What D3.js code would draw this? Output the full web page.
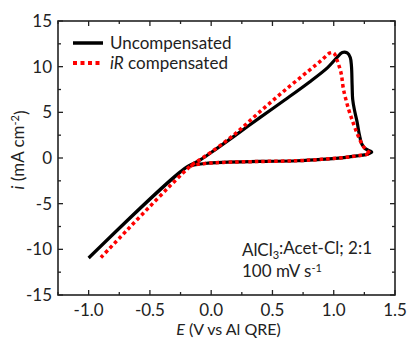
<!DOCTYPE html>
<html>
<head>
<meta charset="utf-8">
<script src="https://cdn.jsdelivr.net/npm/d3@7"></script>
<style>
    body { margin: 0; background: #fff; }
    svg text { font-family: Lato, "Open Sans", sans-serif; fill: #222; }
</style>
</head>
<body>
<div id="chart"></div>
<script>
// values (E in V, i in mA cm-2)
const uncompE = [-1.0, -0.2, -0.1, 0.0, 0.2, 0.4, 0.6, 0.8, 0.95, 1.02, 1.07, 1.11, 1.135, 1.145, 1.15, 1.155, 1.17, 1.19, 1.21, 1.23, 1.26, 1.3, 1.31,
    1.27, 1.2, 1.1, 0.9, 0.7, 0.4, 0.1, -0.05, -0.15, -0.2, -1.0];
const uncompI = [-10.95, -1.0, -0.3, 0.6, 2.5, 4.45, 6.35, 8.3, 9.9, 10.9, 11.55, 11.5, 11.0, 10.0, 8.0, 6.4, 5.2, 4.0, 2.5, 1.5, 1.0, 0.75, 0.65,
    0.4, 0.25, 0.07, -0.15, -0.3, -0.38, -0.48, -0.6, -0.8, -1.0, -10.95];

const compE = [-0.9, -0.17, -0.1, 0.0, 0.2, 0.4, 0.6, 0.8, 0.9, 0.97, 1.0, 1.03, 1.06, 1.08, 1.12, 1.16, 1.2, 1.24, 1.28, 1.3,
    1.27, 1.2, 1.1, 0.9, 0.7, 0.4, 0.1, -0.05, -0.15, -0.17];
const compI = [-10.9, -0.9, -0.25, 0.65, 2.7, 5.1, 7.4, 9.6, 10.7, 11.5, 11.5, 10.6, 9.3, 7.5, 5.4, 3.8, 2.4, 1.3, 0.7, 0.55,
    0.4, 0.25, 0.07, -0.15, -0.3, -0.38, -0.48, -0.6, -0.8, -0.9];

const xTicks = [-1.0, -0.5, 0.0, 0.5, 1.0, 1.5];
const yTicks = [-15, -10, -5, 0, 5, 10, 15];
const seriesNames = ["Uncompensated", "iR compensated"];

const width = 409, height = 338;
const margin = {top: 21, right: 14, bottom: 43, left: 58};

const svg = d3.select("#chart").append("svg")
    .attr("width", width)
    .attr("height", height);

const x = d3.scaleLinear().domain([-1.25, 1.5]).range([margin.left, width - margin.right]);
const y = d3.scaleLinear().domain([-15, 15]).range([height - margin.bottom, margin.top]);

const fmtX = d => d.toFixed(1);
const xMinor = d3.range(-1.25, 1.5001, 0.25);
const yMinor = d3.range(-15, 15.001, 2.5);

// inward ticks on all four sides
function tickAxes() {
    const g = svg.append("g").attr("class", "ticks");
    const x0 = x.range()[0], x1 = x.range()[1], y0 = y.range()[0], y1 = y.range()[1];
    xMinor.forEach(v => {
        const len = xTicks.some(t => Math.abs(t - v) < 1e-6) ? 5 : 3;
        g.append("line").attr("x1", x(v)).attr("x2", x(v)).attr("y1", y0).attr("y2", y0 - len);
        g.append("line").attr("x1", x(v)).attr("x2", x(v)).attr("y1", y1).attr("y2", y1 + len);
    });
    yMinor.forEach(v => {
        const len = yTicks.includes(v) ? 5 : 3;
        g.append("line").attr("y1", y(v)).attr("y2", y(v)).attr("x1", x0).attr("x2", x0 + len);
        g.append("line").attr("y1", y(v)).attr("y2", y(v)).attr("x1", x1).attr("x2", x1 - len);
    });
    g.selectAll("line").attr("stroke", "#222").attr("stroke-width", 1.3);
}
tickAxes();

// tick labels
svg.append("g").selectAll("text")
    .data(xTicks).enter().append("text")
    .attr("x", d => x(d))
    .attr("y", y.range()[0] + 21)
    .attr("text-anchor", "middle")
    .style("font-size", "17px")
    .text(fmtX);

svg.append("g").selectAll("text")
    .data(yTicks).enter().append("text")
    .attr("x", margin.left - 6)
    .attr("y", d => y(d))
    .attr("dy", "0.35em")
    .attr("text-anchor", "end")
    .style("font-size", "17px")
    .text(d => d);

// frame
svg.append("rect")
    .attr("x", margin.left).attr("y", margin.top)
    .attr("width", width - margin.right - margin.left)
    .attr("height", height - margin.bottom - margin.top)
    .attr("fill", "none").attr("stroke", "#222").attr("stroke-width", 1.6);

// axis titles
const xt = svg.append("text")
    .attr("x", (x.range()[0] + x.range()[1]) / 2 + 2)
    .attr("y", 335)
    .attr("text-anchor", "middle")
    .style("font-size", "16px");
xt.append("tspan").style("font-style", "italic").text("E");
xt.append("tspan").text(" (V vs Al QRE)");

const yt = svg.append("text")
    .attr("transform", `translate(24,${(y.range()[0] + y.range()[1]) / 2 - 8}) rotate(-90)`)
    .attr("text-anchor", "middle")
    .style("font-size", "17px");
yt.append("tspan").style("font-style", "italic").text("i");
yt.append("tspan").text(" (mA cm");
yt.append("tspan").attr("dy", "-0.45em").style("font-size", "11px").text("-2");
yt.append("tspan").attr("dy", "0.45em").text(")");

// curves
const line = d3.line()
    .x(d => x(d[0]))
    .y(d => y(d[1]))
    .curve(d3.curveCatmullRom.alpha(0.5));

const plot = svg.append("g");
plot.append("path")
    .datum(d3.zip(uncompE, uncompI))
    .attr("d", line)
    .attr("fill", "none")
    .attr("stroke", "#000")
    .attr("stroke-width", 3.2)
    .attr("stroke-linejoin", "round");

plot.append("path")
    .datum(d3.zip(compE, compI))
    .attr("d", line)
    .attr("fill", "none")
    .attr("stroke", "#f00")
    .attr("stroke-width", 3.5)
    .attr("stroke-dasharray", "3.5,3");

// legend
const legend = svg.append("g");
seriesNames.forEach((name, k) => {
    const ly = 43 + k * 20;
    legend.append("line")
        .attr("x1", 73).attr("x2", 103).attr("y1", ly).attr("y2", ly)
        .attr("stroke", k === 0 ? "#000" : "#f00")
        .attr("stroke-width", k === 0 ? 3.5 : 4)
        .attr("stroke-dasharray", k === 0 ? null : "4,3.5");
    const t = legend.append("text")
        .attr("x", 110).attr("y", ly).attr("dy", "0.35em")
        .style("font-size", "17px");
    if (k === 0) t.text(name);
    else {
        t.append("tspan").style("font-style", "italic").text("iR");
        t.append("tspan").text(" compensated");
    }
});

// annotation
const a1 = svg.append("text").attr("x", 242).attr("y", 256).style("font-size", "17px");
a1.append("tspan").text("AlCl");
a1.append("tspan").attr("dy", "0.3em").style("font-size", "11px").text("3");
a1.append("tspan").attr("dy", "-0.3em").text(":Acet-Cl; 2:1");

const a2 = svg.append("text").attr("x", 242).attr("y", 277).style("font-size", "17px");
a2.append("tspan").text("100 mV s");
a2.append("tspan").attr("dy", "-0.45em").style("font-size", "11px").text("-1");
</script>
</body>
</html>
